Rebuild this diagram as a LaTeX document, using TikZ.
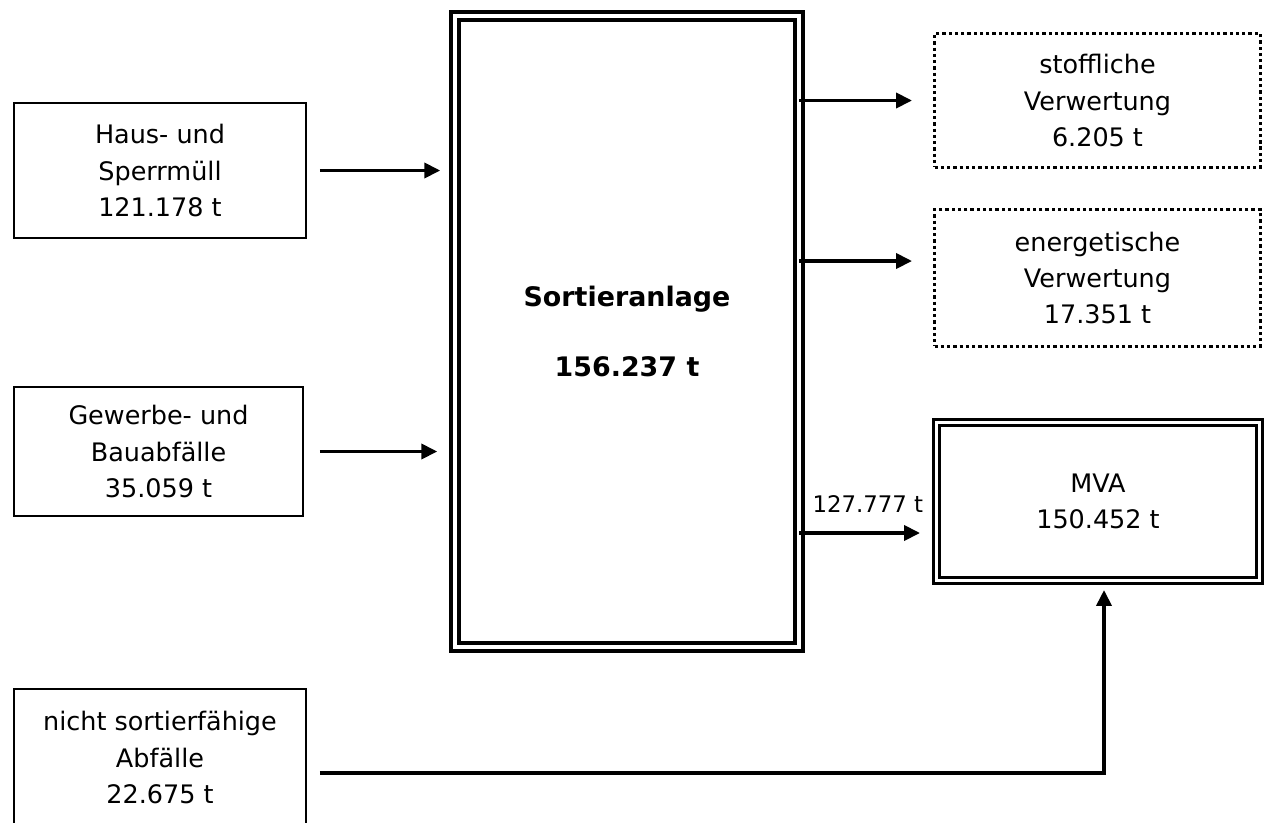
\documentclass[tikz,border=0pt]{standalone}
\usepackage{fontspec}
\setmainfont{DejaVu Sans}
\usetikzlibrary{arrows.meta}

\begin{document}
\begin{tikzpicture}[
        x=0.02cm, y=-0.02cm,
        >={Triangle[length=0.32cm, width=0.3cm]},
        box/.style={draw, line width=0.04cm, align=center, inner sep=0pt, outer sep=0pt,
            font=\fontsize{14.5}{20.7}\selectfont},
        dotbox/.style={box, line width=0.065cm, dash pattern=on 0.065cm off 0.06cm},
        dblbox/.style={box, line width=0.06cm, double, double distance=0.066cm},
        flow/.style={->, line width=0.075cm},
        lbl/.style={font=\fontsize{13}{18}\selectfont}
    ]
    \useasboundingbox (0,0) rectangle (1267,822);

    % Eingänge
    \node[box, minimum width=5.84cm, minimum height=2.7cm] (haus) at (160,170.5) {Haus- und\\Sperrmüll\\121.178 t};
    \node[box, minimum width=5.78cm, minimum height=2.58cm] (gewerbe) at (158.5,451.5) {Gewerbe- und\\Bauabfälle\\35.059 t};
    \node[box, minimum width=5.84cm, minimum height=2.74cm] (nicht) at (160,757.5) {nicht sortierfähige\\Abfälle\\22.675 t};

    % Sortieranlage
    \node[dblbox, line width=0.08cm, double distance=0.07cm, minimum width=6.89cm, minimum height=12.63cm,
        font=\bfseries\fontsize{15.3}{39.7}\selectfont] (sort) at (627,331.5) {Sortieranlage\\156.237 t};

    % Ausgänge
    \node[dotbox, minimum width=6.52cm, minimum height=2.68cm] (stoff) at (1097.5,100.5) {stoffliche\\Verwertung\\6.205 t};
    \node[dotbox, minimum width=6.52cm, minimum height=2.74cm] (energ) at (1097.5,278) {energetische\\Verwertung\\17.351 t};
    \node[dblbox, minimum width=6.46cm, minimum height=3.16cm] (mva) at (1098,501.5) {MVA\\150.452 t};

    % Pfeile
    \draw[flow, shorten <=0.28cm, shorten >=0.29cm] (haus.east) -- (haus.east -| sort.west);
    \draw[flow, shorten <=0.34cm, shorten >=0.35cm] (gewerbe.east) -- (gewerbe.east -| sort.west);
    \draw[flow, shorten >=0.45cm] (sort.east |- stoff.west) -- (stoff.west);
    \coordinate (e1) at ([yshift=0.34cm]energ.west);
    \draw[flow, shorten >=0.45cm] (sort.east |- e1) -- (e1);
    \coordinate (m1) at ([yshift=-0.63cm]mva.west);
    \draw[flow, shorten >=0.33cm] (sort.east |- m1) -- node[lbl, midway, above=0.25cm] {127.777 t} (m1);
    \draw[flow, shorten <=0.28cm, shorten >=0.19cm] ([yshift=-0.31cm]nicht.east) -| ([xshift=0.12cm]mva.south);
\end{tikzpicture}
\end{document}
